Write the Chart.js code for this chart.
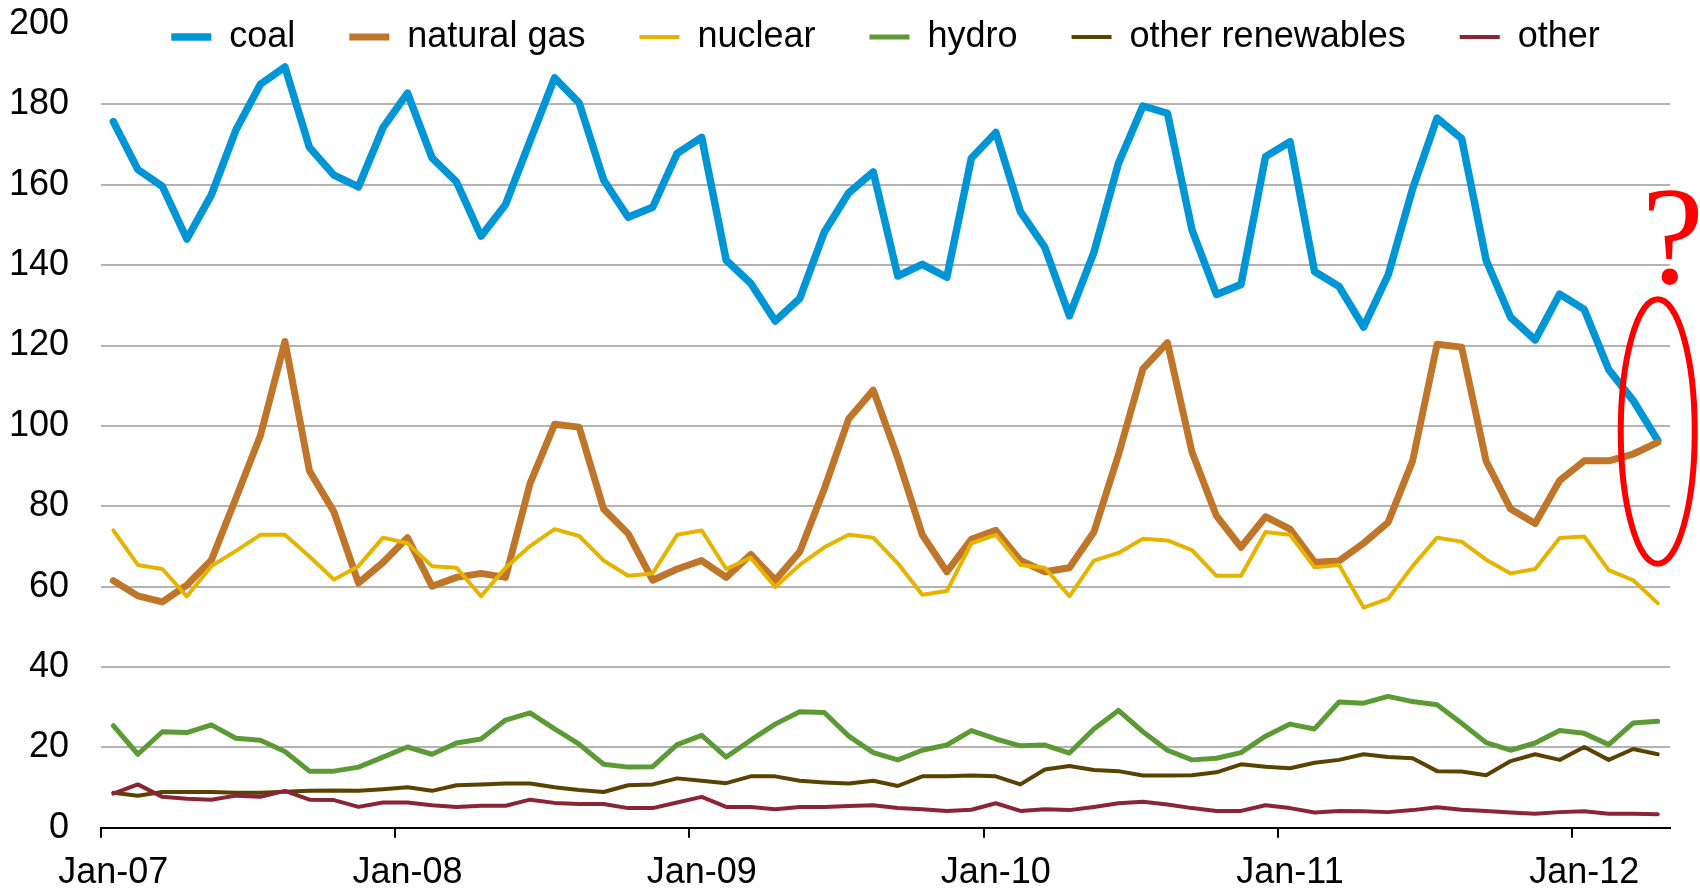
<!DOCTYPE html>
<html>
<head>
<meta charset="utf-8">
<title>Electricity generation by source</title>
<script src="https://cdn.jsdelivr.net/npm/chart.js@4.4.0/dist/chart.umd.min.js"></script>
<style>
  html, body { margin: 0; padding: 0; background: #fff; }
</style>
</head>
<body>
<canvas id="linechart" width="1700" height="891"></canvas>
<script>
var months = ["Jan", "Feb", "Mar", "Apr", "May", "Jun", "Jul", "Aug", "Sep", "Oct", "Nov", "Dec"];
var years = ["07", "08", "09", "10", "11", "12"];

var coal = [175.7, 163.8, 159.6, 146.5, 157.5, 173.6, 185, 189.3, 169.3, 162.4, 159.5, 174.2,
  182.8, 166.7, 160.7, 147.2, 155.1, 170.9, 186.6, 180.4, 161.2, 151.9, 154.4, 167.8,
  171.8, 141.2, 135.5, 126.1, 131.7, 148.2, 158, 163.2, 137.3, 140.2, 137, 166.6,
  173, 153.3, 144.4, 127.4, 143.2, 165.3, 179.6, 177.8, 148.8, 132.7, 135.2, 167,
  170.7, 138.4, 134.7, 124.6, 137.5, 159, 176.6, 171.5, 141.2, 127, 121.4, 132.8,
  129, 114, 106.3, 96.4];
var natural_gas = [61.5, 57.7, 56.2, 60.4, 66.6, 82, 97.6, 121, 88.8, 78.6, 60.9, 66,
  72.2, 60.1, 62.3, 63.3, 62.3, 85.7, 100.4, 99.7, 79.3, 73.2, 61.6, 64.4,
  66.5, 62.3, 68, 61.6, 68.7, 84.3, 101.8, 108.9, 92, 72.9, 63.7, 71.8,
  74, 66.5, 63.7, 64.7, 73.6, 92.8, 114.2, 120.7, 93.5, 77.6, 69.8, 77.4,
  74.3, 66.1, 66.4, 70.8, 76, 91.3, 120.3, 119.6, 91.2, 79.3, 75.7, 86.4,
  91.3, 91.3, 93, 95.9];
var nuclear = [74, 65.4, 64.4, 57.6, 65.1, 68.9, 72.9, 72.9, 67.5, 61.8, 65.1, 72.2,
  70.8, 65.1, 64.7, 57.6, 64.7, 70.1, 74.3, 72.6, 66.5, 62.7, 63.3, 72.9,
  74, 64.4, 67.2, 59.9, 65.4, 69.8, 72.9, 72.2, 65.8, 58, 58.9, 70.8,
  72.9, 65.4, 64.7, 57.6, 66.5, 68.4, 71.9, 71.5, 69.1, 62.7, 62.7, 73.6,
  72.9, 64.8, 65.4, 54.8, 57, 65.1, 72.2, 71.2, 66.7, 63.3, 64.4, 72.1,
  72.5, 64.1, 61.6, 55.9];
var hydro = [25.4, 18.3, 23.9, 23.7, 25.6, 22.3, 21.8, 19, 14.1, 14.1, 15.1, 17.6,
  20.1, 18.3, 21.1, 22.1, 26.8, 28.6, 24.6, 20.8, 15.8, 15.1, 15.2, 20.7,
  23, 17.6, 21.8, 25.8, 28.9, 28.7, 22.8, 18.7, 16.9, 19.3, 20.6, 24.2,
  22.1, 20.4, 20.6, 18.6, 24.6, 29.2, 23.9, 19.3, 16.9, 17.3, 18.7, 22.8,
  25.8, 24.6, 31.3, 31, 32.7, 31.4, 30.6, 26, 21.2, 19.3, 21.1, 24.2,
  23.5, 20.7, 26.1, 26.5];
var other_renewables = [8.7, 8, 8.9, 8.9, 8.9, 8.7, 8.7, 9, 9.2, 9.3, 9.2, 9.6,
  10.1, 9.2, 10.6, 10.8, 11, 11, 10.1, 9.4, 8.9, 10.6, 10.8, 12.3,
  11.7, 11.1, 12.8, 12.8, 11.7, 11.3, 11, 11.7, 10.4, 12.8, 12.8, 13,
  12.8, 10.8, 14.5, 15.4, 14.4, 14.1, 13, 13, 13.1, 13.8, 15.8, 15.2,
  14.8, 16.2, 16.9, 18.3, 17.6, 17.3, 14.1, 14, 13.1, 16.6, 18.3, 16.9,
  20.1, 16.9, 19.6, 18.3];
var other = [8.5, 10.8, 7.7, 7.2, 7, 8, 7.7, 9.2, 7, 6.9, 5.2, 6.3,
  6.3, 5.6, 5.2, 5.5, 5.5, 7, 6.2, 5.9, 5.9, 4.9, 4.9, 6.3,
  7.7, 5.2, 5.2, 4.6, 5.2, 5.2, 5.4, 5.6, 4.9, 4.6, 4.2, 4.5,
  6.1, 4.2, 4.6, 4.4, 5.2, 6.1, 6.5, 5.8, 4.9, 4.2, 4.2, 5.6,
  4.9, 3.8, 4.2, 4.1, 3.9, 4.4, 5.1, 4.5, 4.2, 3.8, 3.5, 3.9,
  4.1, 3.5, 3.5, 3.4];

var date_field = [];
for (var y = 0; y < years.length; y++) {
  for (var m = 0; m < months.length; m++) {
    date_field.push(months[m] + "-" + years[y]);
  }
}
date_field = date_field.slice(0, coal.length);

var legendPad = 54;
var legendMiddle = 37;

Chart.defaults.font.family = '"Liberation Sans", Arial, sans-serif';
Chart.defaults.font.size = 36;
Chart.defaults.color = "#000";

// legend sits inside the plot, on top of the 200 line
var legendInside = {
  id: "legendInside",
  afterLayout: function (chart) {
    var lg = chart.legend;
    var h = lg.bottom - lg.top;
    lg.top = legendMiddle - legendPad - 18;
    lg.bottom = lg.top + h;
  }
};

// red ellipse and question mark round the last month
var questionMark = {
  id: "questionMark",
  afterDraw: function (chart) {
    var ctx = chart.ctx;
    var xs = chart.scales.x;
    var ys = chart.scales.y;
    var cx = xs.getPixelForValue(coal.length - 1);
    var top = ys.getPixelForValue(131.5);
    var bottom = ys.getPixelForValue(65.7);
    ctx.save();
    ctx.strokeStyle = "#ff0000";
    ctx.lineWidth = 6;
    ctx.beginPath();
    ctx.ellipse(cx, (top + bottom) / 2, 37, (bottom - top) / 2, 0, 0, Math.PI * 2);
    ctx.stroke();
    ctx.fillStyle = "#ff0000";
    ctx.font = '140px "Liberation Serif", "Times New Roman", serif';
    ctx.textAlign = "center";
    ctx.textBaseline = "alphabetic";
    ctx.fillText("?", cx + 15, ys.getPixelForValue(135.5));
    ctx.restore();
  }
};

function line(label, data, color, width, order) {
  return {
    label: label,
    data: data,
    borderColor: color,
    backgroundColor: color,
    borderWidth: width,
    borderCapStyle: "round",
    borderJoinStyle: "round",
    pointRadius: 0,
    pointHoverRadius: 0,
    tension: 0,
    fill: false,
    order: order
  };
}

var chart1 = document.getElementById("linechart");
var myChart1 = new Chart(chart1, {
  type: "line",
  data: {
    labels: date_field,
    datasets: [
      line("coal", coal, "#0096d6", 7.5, 6),
      line("natural gas", natural_gas, "#c0762a", 7, 5),
      line("nuclear", nuclear, "#e6b400", 4, 4),
      line("hydro", hydro, "#5c9a35", 5, 3),
      line("other renewables", other_renewables, "#5a4200", 4, 2),
      line("other", other, "#8b2535", 4, 1)
    ]
  },
  options: {
    responsive: false,
    animation: false,
    events: [],
    layout: {
      padding: { top: 24 - (36 + legendPad + 10), left: 7, right: 30, bottom: -18 }
    },
    plugins: {
      legend: {
        display: true,
        position: "top",
        align: "center",
        fullSize: false,
        labels: {
          usePointStyle: true,
          pointStyle: "line",
          pointStyleWidth: 40,
          padding: legendPad,
          color: "#000",
          font: { size: 36 },
          sort: function (a, b) { return a.datasetIndex - b.datasetIndex; }
        }
      },
      title: { display: false },
      tooltip: { enabled: false }
    },
    scales: {
      x: {
        type: "category",
        offset: true,
        grid: {
          offset: true,
          drawOnChartArea: false,
          drawTicks: true,
          tickLength: 10,
          lineWidth: 2,
          color: function (c) {
            return c.index % 12 === 0 && c.index < coal.length ? "#000" : "rgba(0,0,0,0)";
          }
        },
        border: { display: true, color: "#000", width: 2 },
        ticks: {
          autoSkip: false,
          maxRotation: 0,
          minRotation: 0,
          padding: 14,
          callback: function (v, i) {
            return i % 12 === 0 ? this.getLabelForValue(v) : "";
          }
        }
      },
      y: {
        min: 0,
        max: 200,
        // invisible tick marks keep the gap between labels and plot
        ticks: { stepSize: 20, padding: 2 },
        grid: {
          drawTicks: true,
          tickLength: 30,
          tickColor: "rgba(0,0,0,0)",
          lineWidth: 2,
          color: function (c) {
            if (!c.tick) return "#b3b3b3";
            if (c.tick.value === 200) return "rgba(0,0,0,0)";
            if (c.tick.value === 0) return "#000";
            return "#b3b3b3";
          }
        },
        border: { display: false }
      }
    }
  },
  plugins: [legendInside, questionMark]
});
</script>
</body>
</html>
